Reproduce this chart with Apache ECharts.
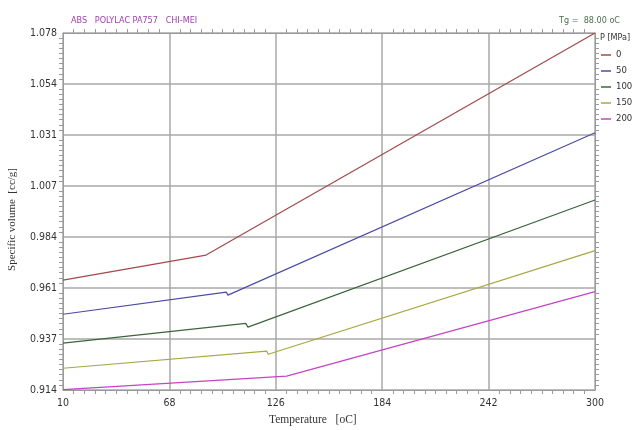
<!DOCTYPE html>
<html>
<head>
<meta charset="utf-8">
<script src="https://cdn.jsdelivr.net/npm/echarts@6/dist/echarts.min.js"></script>
<style>html,body{margin:0;padding:0;background:#fff}#c{width:632px;height:430px}</style>
</head>
<body>
<div id="c"></div>
<script>
// ---- data ----
const seriesNames = ['0', '50', '100', '150', '200'];
const seriesColors = ['#a24a4a', '#4c4ca4', '#3c643c', '#a8a844', '#c444c4'];
// temperature [oC] points of each curve (glassy start, transition, melt end)
const temps0   = [10, 88.0, 300];
const vol0     = [0.9642, 0.9757, 1.0777];
const temps50  = [10, 99.0, 99.9, 300];
const vol50    = [0.9485, 0.9587, 0.9573, 1.0319];
const temps100 = [10, 109.6, 110.8, 300];
const vol100   = [0.9352, 0.9443, 0.9426, 1.0010];
const temps150 = [10, 121.0, 121.9, 300];
const vol150   = [0.9237, 0.9316, 0.9301, 0.9777];
const temps200 = [10, 131.9, 132.6, 300];
const vol200   = [0.9139, 0.9201, 0.9194, 0.9589];
const xTickLabels = ['10', '68', '126', '184', '242', '300'];
const yTickLabels = ['0.914', '0.937', '0.961', '0.984', '1.007', '1.031', '1.054', '1.078'];

const allTemps = [temps0, temps50, temps100, temps150, temps200];
const allVols = [vol0, vol50, vol100, vol150, vol200];

const chart = echarts.init(document.getElementById('c'));
const gridColor = '#a8a8a8';
const axisColor = '#9a9a9a';
const tickFont = "'Liberation Sans Narrow', 'DejaVu Sans Condensed', 'Liberation Sans', sans-serif";

function xAxisDef(pos, labels) {
  return {
    type: 'value', position: pos, min: 10, max: 300, interval: 58,
    axisLine: { show: true, onZero: false, lineStyle: { color: axisColor, width: 1 } },
    axisTick: { show: false },
    minorTick: { show: true, splitNumber: 10, length: 4, lineStyle: { color: axisColor } },
    axisLabel: labels ? { show: true, color: '#333', fontSize: 10.5, fontFamily: tickFont, margin: 8,
      formatter: (v, i) => xTickLabels[i] !== undefined ? xTickLabels[i] : String(v) } : { show: false },
    splitLine: { show: labels, lineStyle: { color: gridColor, width: 1.5 } }
  };
}
function yAxisDef(pos, labels) {
  return {
    type: 'value', position: pos, min: 0.9137, max: 1.0777, interval: 0.02343,
    axisLine: { show: true, onZero: false, lineStyle: { color: axisColor, width: 1 } },
    axisTick: { show: false },
    minorTick: { show: true, splitNumber: 10, length: 4, lineStyle: { color: axisColor } },
    axisLabel: labels ? { show: true, color: '#333', fontSize: 10.5, fontFamily: tickFont, margin: 6,
      formatter: (v, i) => yTickLabels[i] !== undefined ? yTickLabels[i] : v.toFixed(3) } : { show: false },
    splitLine: { show: labels, lineStyle: { color: gridColor, width: 1.5 } }
  };
}

const series = seriesNames.map((name, k) => ({
  name: name,
  type: 'line',
  xAxisIndex: 0, yAxisIndex: 0,
  symbol: 'none',
  lineStyle: { width: 1.2, color: seriesColors[k] },
  itemStyle: { color: seriesColors[k] },
  data: allTemps[k].map((t, j) => [t, allVols[k][j]])
}));

chart.setOption({
  animation: false,
  backgroundColor: '#fff',
  grid: { left: 63, right: 37, top: 33, bottom: 40, containLabel: false },
  xAxis: [xAxisDef('bottom', true), xAxisDef('top', false)],
  yAxis: [yAxisDef('left', true), yAxisDef('right', false)],
  legend: {
    orient: 'vertical', left: 596, top: 45, padding: 5,
    icon: 'rect', itemWidth: 10, itemHeight: 1.5, itemGap: 6,
    textStyle: { color: '#333', fontSize: 9.5, fontFamily: tickFont },
    data: seriesNames
  },
  title: [
    { text: 'ABS   POLYLAC PA757   CHI-MEI', left: 66, top: 11,
      textStyle: { color: '#a040b0', fontSize: 9, fontWeight: 'normal', fontFamily: tickFont } },
    { text: 'Tg =  88.00 oC', right: 7, top: 11,
      textStyle: { color: '#4e704e', fontSize: 9, fontWeight: 'normal', fontFamily: tickFont } }
  ],
  graphic: [
    { type: 'text', left: 600, top: 33,
      style: { text: 'P [MPa]', fill: '#333', font: "9px " + tickFont } },
    { type: 'text', left: 269, top: 414,
      style: { text: 'Temperature   [oC]', fill: '#333', font: "11.5px 'Liberation Serif', 'DejaVu Serif', serif" } },
    { type: 'text', left: 7, top: 168, rotation: Math.PI / 2,
      style: { text: 'Specific volume  [cc/g]', fill: '#333', font: "11px 'Liberation Serif', 'DejaVu Serif', serif" } }
  ],
  series: series
});
</script>
</body>
</html>
